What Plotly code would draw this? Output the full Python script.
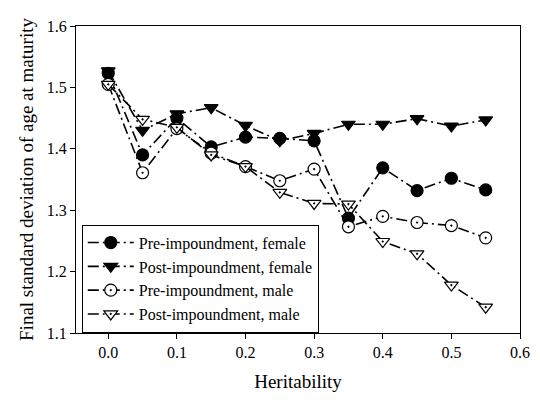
import plotly.graph_objects as go

heritability = [0.0, 0.05, 0.1, 0.15, 0.2, 0.25, 0.3, 0.35, 0.4, 0.45, 0.5, 0.55]

pre_female = [1.523, 1.390, 1.450, 1.403, 1.419, 1.417, 1.413, 1.287, 1.369, 1.332, 1.352, 1.333]
post_female = [1.527, 1.430, 1.457, 1.467, 1.438, 1.413, 1.425, 1.440, 1.440, 1.449, 1.437, 1.447]
pre_male = [1.505, 1.361, 1.433, 1.393, 1.371, 1.348, 1.367, 1.273, 1.290, 1.280, 1.275, 1.255]
post_male = [1.505, 1.448, 1.435, 1.390, 1.371, 1.329, 1.311, 1.310, 1.249, 1.229, 1.178, 1.142]

series = [
    ("Pre-impoundment, female", pre_female, "circle", "black"),
    ("Post-impoundment, female", post_female, "triangle-down", "black"),
    ("Pre-impoundment, male", pre_male, "circle-dot", "white"),
    ("Post-impoundment, male", post_male, "triangle-down-dot", "white"),
]

font = "Liberation Serif"

fig = go.Figure()
for name, vals, symbol, fill in series:
    fig.add_trace(go.Scatter(
        x=heritability, y=vals, name=name, mode="lines+markers",
        line=dict(color="black", width=1.6, dash="11px,4px,2px,4px"),
        marker=dict(symbol=symbol, size=12, color=fill,
                    line=dict(color="black", width=1.2)),
    ))

# page body has an 8px margin, so the figure is shrunk by that much
fig.update_layout(
    width=532, height=392,
    margin=dict(l=68, r=11, t=10, b=67),
    paper_bgcolor="white", plot_bgcolor="white",
    font=dict(family=font, size=16, color="black"),
    showlegend=True,
    legend=dict(x=0.013, y=0.353, xanchor="left", yanchor="top",
                bordercolor="black", borderwidth=1, bgcolor="white",
                font=dict(size=16), tracegroupgap=0, itemwidth=46),
)
fig.update_xaxes(
    range=[-0.047, 0.6], tickvals=[0, 0.1, 0.2, 0.3, 0.4, 0.5, 0.6],
    tickformat=".1f", ticks="outside", ticklen=5, tickcolor="black",
    showline=True, linecolor="black", linewidth=1, mirror=True,
    showgrid=False, zeroline=False,
    title=dict(text="Heritability", font=dict(size=19), standoff=14),
)
fig.update_yaxes(
    range=[1.1, 1.6], tickvals=[1.1, 1.2, 1.3, 1.4, 1.5, 1.6],
    tickformat=".1f", ticks="outside", ticklen=5, tickcolor="black",
    showline=True, linecolor="black", linewidth=1, mirror=True,
    showgrid=False, zeroline=False,
    title=dict(text="Final standard deviation of age at maturity", font=dict(size=19), standoff=8),
)

fig.write_html("out.html")
